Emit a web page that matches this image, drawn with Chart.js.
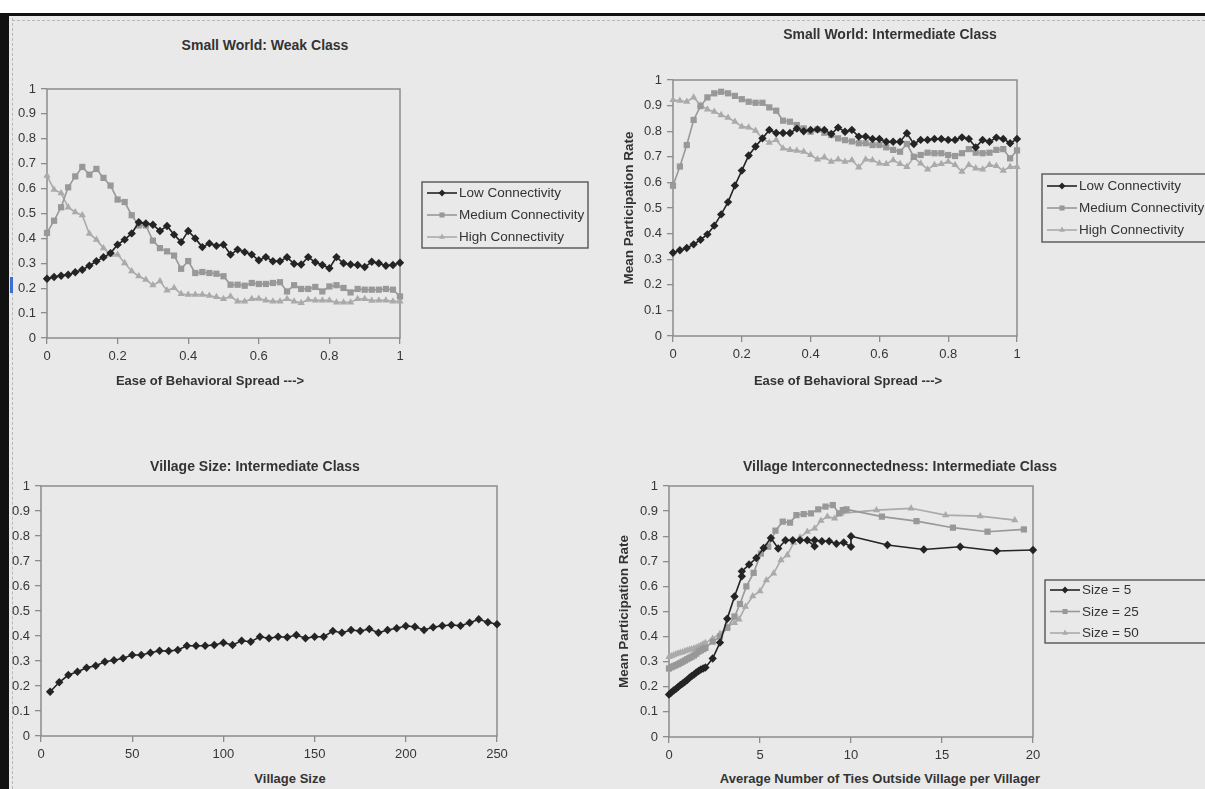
<!DOCTYPE html>
<html>
<head>
<meta charset="utf-8">
<title>Participation charts</title>
<script src="https://cdn.jsdelivr.net/npm/chart.js@4.4.1/dist/chart.umd.min.js"></script>
<style>
    html, body { margin: 0; padding: 0; }
    body {
        width: 1205px; height: 789px; position: relative; overflow: hidden;
        background: #fff; font-family: 'Liberation Sans', Arial, sans-serif; color: #333;
    }
    #page {
        position: absolute; left: 0; top: 13px; width: 1205px; height: 776px;
        background: #e9e9e9; border-top: 3px solid #111; border-left: 9px solid #111;
        box-sizing: border-box;
    }
    .edge-v { position: absolute; left: 12px; top: 18px; height: 771px; border-left: 1px dashed #b8b8b8; }
    .edge-h { position: absolute; left: 12px; top: 20px; width: 1193px; border-top: 1px dashed #b8b8b8; }
    .blue { position: absolute; left: 10px; top: 277px; width: 3px; height: 16px; background: #3d6fd0; }
    .box { position: absolute; }
    .lbl {
        position: absolute; transform: translate(-50%, -50%); white-space: nowrap;
        font-weight: bold; color: #333;
    }
    .main { font-size: 14px; }
    .axis { font-size: 13px; }
</style>
</head>
<body>
<div id="page"></div>
<div class="edge-v"></div>
<div class="edge-h"></div>
<div class="blue"></div>

<div class="box" style="left:0px; top:60px; width:600px; height:320px;"><canvas id="weakChart"></canvas></div>
<div class="box" style="left:600px; top:20px; width:605px; height:360px;"><canvas id="interChart"></canvas></div>
<div class="box" style="left:0px; top:470px; width:600px; height:300px;"><canvas id="sizeChart"></canvas></div>
<div class="box" style="left:600px; top:470px; width:605px; height:300px;"><canvas id="tiesChart"></canvas></div>

<div class="lbl main" style="left:265px; top:45px;">Small World: Weak Class</div>
<div class="lbl main" style="left:890px; top:34px;">Small World: Intermediate Class</div>
<div class="lbl main" style="left:255px; top:466px;">Village Size: Intermediate Class</div>
<div class="lbl main" style="left:900px; top:466px;">Village Interconnectedness: Intermediate Class</div>

<div class="lbl axis" style="left:210px; top:380px;">Ease of Behavioral Spread ---&gt;</div>
<div class="lbl axis" style="left:848px; top:380px;">Ease of Behavioral Spread ---&gt;</div>
<div class="lbl axis" style="left:290px; top:778px;">Village Size</div>
<div class="lbl axis" style="left:880px; top:778px;">Average Number of Ties Outside Village per Villager</div>

<script>
// ============================
// DATA
// ============================

const spread = [0, 0.02, 0.04, 0.06, 0.08, 0.1, 0.12, 0.14, 0.16, 0.18,
    0.2, 0.22, 0.24, 0.26, 0.28, 0.3, 0.32, 0.34, 0.36, 0.38,
    0.4, 0.42, 0.44, 0.46, 0.48, 0.5, 0.52, 0.54, 0.56, 0.58,
    0.6, 0.62, 0.64, 0.66, 0.68, 0.7, 0.72, 0.74, 0.76, 0.78,
    0.8, 0.82, 0.84, 0.86, 0.88, 0.9, 0.92, 0.94, 0.96, 0.98, 1];

const connectivityLabels = ['Low Connectivity', 'Medium Connectivity', 'High Connectivity'];

const weakLow = [0.238, 0.245, 0.25, 0.254, 0.264, 0.274, 0.29, 0.308, 0.324, 0.341,
    0.375, 0.395, 0.42, 0.465, 0.46, 0.455, 0.43, 0.45, 0.415, 0.385,
    0.43, 0.40, 0.365, 0.38, 0.37, 0.375, 0.335, 0.355, 0.345, 0.335,
    0.312, 0.325, 0.308, 0.308, 0.324, 0.298, 0.295, 0.325, 0.304, 0.293,
    0.28, 0.325, 0.30, 0.295, 0.293, 0.285, 0.306, 0.30, 0.29, 0.293, 0.302];

const weakMedium = [0.422, 0.471, 0.525, 0.605, 0.649, 0.687, 0.656, 0.679, 0.643, 0.612,
    0.556, 0.546, 0.493, 0.452, 0.452, 0.391, 0.361, 0.348, 0.331, 0.278,
    0.309, 0.261, 0.265, 0.261, 0.258, 0.248, 0.214, 0.214, 0.21, 0.221,
    0.217, 0.217, 0.221, 0.224, 0.187, 0.212, 0.197, 0.197, 0.205, 0.187,
    0.207, 0.212, 0.201, 0.183, 0.197, 0.194, 0.194, 0.194, 0.197, 0.194, 0.167];

const weakHigh = [0.652, 0.596, 0.582, 0.525, 0.505, 0.493, 0.419, 0.395, 0.361, 0.335,
    0.335, 0.301, 0.268, 0.248, 0.234, 0.212, 0.228, 0.191, 0.201, 0.177,
    0.174, 0.174, 0.174, 0.17, 0.165, 0.157, 0.167, 0.147, 0.147, 0.157,
    0.158, 0.151, 0.147, 0.147, 0.157, 0.147, 0.141, 0.154, 0.151, 0.151,
    0.151, 0.143, 0.143, 0.143, 0.157, 0.157, 0.15, 0.151, 0.151, 0.147, 0.147];

const interLow = [0.325, 0.335, 0.344, 0.358, 0.376, 0.397, 0.431, 0.475, 0.523, 0.588,
    0.646, 0.705, 0.74, 0.772, 0.805, 0.793, 0.793, 0.793, 0.81, 0.80,
    0.805, 0.807, 0.805, 0.789, 0.814, 0.798, 0.805, 0.779, 0.779, 0.77,
    0.77, 0.759, 0.759, 0.759, 0.792, 0.75, 0.766, 0.766, 0.77, 0.77,
    0.766, 0.766, 0.776, 0.77, 0.737, 0.766, 0.759, 0.775, 0.77, 0.753, 0.77];

const interMedium = [0.587, 0.662, 0.746, 0.844, 0.898, 0.932, 0.948, 0.954, 0.948, 0.938,
    0.925, 0.915, 0.911, 0.911, 0.893, 0.88, 0.841, 0.837, 0.824, 0.811,
    0.798, 0.807, 0.794, 0.785, 0.772, 0.765, 0.76, 0.753, 0.753, 0.746,
    0.746, 0.737, 0.727, 0.72, 0.75, 0.70, 0.707, 0.716, 0.714, 0.714,
    0.707, 0.703, 0.714, 0.73, 0.716, 0.714, 0.716, 0.727, 0.73, 0.694, 0.725];

const interHigh = [0.922, 0.919, 0.915, 0.932, 0.902, 0.885, 0.876, 0.863, 0.853, 0.837,
    0.818, 0.815, 0.802, 0.772, 0.755, 0.766, 0.733, 0.727, 0.724, 0.72,
    0.707, 0.69, 0.698, 0.681, 0.69, 0.681, 0.687, 0.659, 0.69, 0.687,
    0.674, 0.672, 0.687, 0.672, 0.661, 0.698, 0.674, 0.651, 0.668, 0.672,
    0.681, 0.668, 0.642, 0.668, 0.655, 0.651, 0.668, 0.664, 0.646, 0.661, 0.661];

const villageSizes = [5, 10, 15, 20, 25, 30, 35, 40, 45, 50,
    55, 60, 65, 70, 75, 80, 85, 90, 95, 100,
    105, 110, 115, 120, 125, 130, 135, 140, 145, 150,
    155, 160, 165, 170, 175, 180, 185, 190, 195, 200,
    205, 210, 215, 220, 225, 230, 235, 240, 245, 250];

const villageRate = [0.177, 0.215, 0.244, 0.257, 0.273, 0.281, 0.297, 0.303, 0.311, 0.324,
    0.324, 0.333, 0.341, 0.34, 0.344, 0.361, 0.361, 0.361, 0.364, 0.373,
    0.364, 0.381, 0.377, 0.397, 0.391, 0.397, 0.395, 0.404, 0.391, 0.397,
    0.397, 0.42, 0.413, 0.424, 0.42, 0.428, 0.413, 0.424, 0.431, 0.44,
    0.437, 0.424, 0.435, 0.441, 0.444, 0.441, 0.453, 0.467, 0.455, 0.447];

const sizeLabels = ['Size = 5', 'Size = 25', 'Size = 50'];

const size5X = [0, 0.125, 0.25, 0.375, 0.5, 0.625, 0.75, 0.875, 1, 1.125, 1.25, 1.375, 1.5, 1.625, 1.75, 1.875, 2,
    2.4, 2.8, 3.2, 3.6, 4, 4, 4.4, 4.8, 5.2, 5.6, 6, 6.4, 6.8, 7.2, 7.6, 8, 8, 8.4, 8.8, 9.2, 9.6, 10, 10,
    12, 14, 16, 18, 20];
const size5Y = [0.169, 0.177, 0.185, 0.191, 0.199, 0.207, 0.213, 0.22, 0.227, 0.236, 0.243, 0.249, 0.257, 0.263, 0.269, 0.273, 0.277,
    0.313, 0.376, 0.471, 0.56, 0.64, 0.66, 0.687, 0.713, 0.753, 0.793, 0.751, 0.784, 0.784, 0.784, 0.784, 0.76, 0.784, 0.78, 0.78, 0.77, 0.775, 0.758, 0.80,
    0.765, 0.747, 0.758, 0.741, 0.745];

const size25X = [0, 0.125, 0.25, 0.375, 0.5, 0.625, 0.75, 0.875, 1, 1.125, 1.25, 1.375, 1.5, 1.625, 1.75, 1.875, 2,
    2.4, 2.8, 3.2, 3.6, 3.9, 4.25, 4.65, 5.05, 5.45, 5.85, 6.25, 6.65, 7, 7.4, 7.8, 8.2, 8.6, 9, 9.35, 9.55, 9.75,
    11.7, 13.6, 15.6, 17.5, 19.5];
const size25Y = [0.273, 0.278, 0.282, 0.286, 0.29, 0.295, 0.30, 0.305, 0.31, 0.315, 0.32, 0.325, 0.332, 0.34, 0.345, 0.35, 0.355,
    0.38, 0.40, 0.435, 0.48, 0.53, 0.60, 0.654, 0.731, 0.758, 0.822, 0.858, 0.854, 0.884, 0.888, 0.891, 0.907, 0.918, 0.924, 0.891, 0.904, 0.907,
    0.878, 0.86, 0.834, 0.818, 0.827];

const size50X = [0, 0.125, 0.25, 0.375, 0.5, 0.625, 0.75, 0.875, 1, 1.125, 1.25, 1.375, 1.5, 1.625, 1.75, 1.875, 2,
    2.4, 2.8, 3.2, 3.6, 3.85, 4.2, 4.6, 5, 5.35, 5.75, 6.15, 6.5, 6.85, 7.2, 7.6, 8, 8.35, 8.7, 9.1, 9.45,
    11.4, 13.3, 15.2, 17.1, 19];
const size50Y = [0.319, 0.322, 0.326, 0.33, 0.333, 0.336, 0.338, 0.342, 0.345, 0.348, 0.35, 0.353, 0.356, 0.36, 0.365, 0.37, 0.375,
    0.392, 0.412, 0.439, 0.455, 0.469, 0.519, 0.561, 0.581, 0.625, 0.652, 0.705, 0.725, 0.774, 0.795, 0.818, 0.831, 0.862, 0.878, 0.871, 0.891,
    0.904, 0.911, 0.884, 0.88, 0.864];


// ============================
// STYLE + HELPERS
// ============================

Chart.defaults.font.family = "'Liberation Sans', Arial, sans-serif";
Chart.defaults.color = '#363636';

const marks = [
    { color: '#242424', pointStyle: 'rectRot', radius: 4.2 },
    { color: '#989898', pointStyle: 'rect', radius: 4.4 },
    { color: '#aaaaaa', pointStyle: 'triangle', radius: 4.2 }
];

const pts = (xs, ys) => xs.map((x, i) => ({ x: x, y: ys[i] }));

// excel prints 1 and 0, not 1.0 and 0.0
const plainNumber = v => String(Math.round(v * 100) / 100);

function series(label, data, m) {
    return {
        label: label,
        data: data,
        borderColor: m.color,
        backgroundColor: m.color,
        borderWidth: 1.6,
        pointStyle: m.pointStyle,
        pointRadius: m.radius,
        pointBorderWidth: 0,
        pointBackgroundColor: m.color,
        tension: 0,
        clip: false
    };
}

function drawMark(ctx, style, x, y, r) {
    ctx.beginPath();
    if (style === 'rectRot') {
        ctx.moveTo(x, y - r); ctx.lineTo(x + r, y); ctx.lineTo(x, y + r); ctx.lineTo(x - r, y);
    } else if (style === 'rect') {
        const h = r * Math.SQRT1_2;
        ctx.rect(x - h, y - h, 2 * h, 2 * h);
    } else {
        ctx.moveTo(x, y - r); ctx.lineTo(x + r * 0.866, y + r * 0.5); ctx.lineTo(x - r * 0.866, y + r * 0.5);
    }
    ctx.closePath();
    ctx.fill();
}

// grey box round the plot area
const plotFrame = {
    id: 'plotFrame',
    beforeDatasetsDraw(chart) {
        const { ctx, chartArea: a } = chart;
        ctx.save();
        ctx.strokeStyle = '#8c8c8c';
        ctx.lineWidth = 1.5;
        ctx.strokeRect(a.left, a.top, a.right - a.left, a.bottom - a.top);
        ctx.restore();
    }
};

// excel style legend in a box
const boxLegend = {
    id: 'boxLegend',
    afterDraw(chart, args, opts) {
        if (opts.x == null) return;
        const ctx = chart.ctx;
        ctx.save();
        ctx.strokeStyle = '#4a4a4a';
        ctx.lineWidth = 1.3;
        ctx.strokeRect(opts.x, opts.y, opts.w, opts.h);
        ctx.font = "13.5px 'Liberation Sans', Arial, sans-serif";
        ctx.textBaseline = 'middle';
        chart.data.datasets.forEach((ds, i) => {
            const cy = opts.y + opts.first + opts.row * i;
            ctx.strokeStyle = ds.borderColor;
            ctx.fillStyle = ds.borderColor;
            ctx.lineWidth = ds.borderWidth;
            ctx.beginPath();
            ctx.moveTo(opts.x + 5, cy);
            ctx.lineTo(opts.x + 35, cy);
            ctx.stroke();
            drawMark(ctx, ds.pointStyle, opts.x + 20, cy, ds.pointRadius - 0.8);
            ctx.fillStyle = '#333';
            ctx.fillText(ds.label, opts.x + 37, cy + 0.5);
        });
        ctx.restore();
    }
};

function lineChart(id, datasets, o) {
    const gridStyle = { drawOnChartArea: false, tickLength: 6, color: '#8c8c8c', lineWidth: 1.3 };
    return new Chart(document.getElementById(id), {
        type: 'line',
        data: { datasets: datasets },
        plugins: [plotFrame, boxLegend],
        options: {
            responsive: true,
            maintainAspectRatio: false,
            animation: false,
            layout: { padding: { left: o.padLeft, top: o.padTop, right: o.padRight, bottom: 0 } },
            plugins: {
                legend: { display: false },
                tooltip: { enabled: false },
                boxLegend: o.legend || {}
            },
            scales: {
                x: {
                    type: 'linear',
                    min: o.xMin,
                    max: o.xMax,
                    ticks: { stepSize: o.xStep, padding: 5, maxRotation: 0, autoSkip: false,
                        font: { size: 13 }, callback: plainNumber },
                    grid: gridStyle,
                    border: { display: false },
                    afterFit: s => { s.height = o.xHeight; }
                },
                y: {
                    min: 0,
                    max: 1,
                    ticks: { stepSize: 0.1, padding: 5, font: { size: 13 }, callback: plainNumber },
                    grid: gridStyle,
                    border: { display: false },
                    title: {
                        display: !!o.yTitle,
                        text: o.yTitle || '',
                        padding: 0,
                        color: '#333',
                        font: { size: 13.5, weight: 'bold' }
                    },
                    afterFit: s => { s.width = o.yWidth; }
                }
            }
        }
    });
}


// ============================
// SMALL WORLD: WEAK CLASS
// ============================

lineChart('weakChart', [
    series(connectivityLabels[0], pts(spread, weakLow), marks[0]),
    series(connectivityLabels[1], pts(spread, weakMedium), marks[1]),
    series(connectivityLabels[2], pts(spread, weakHigh), marks[2])
], {
    xMin: 0, xMax: 1, xStep: 0.2,
    padLeft: 0, padTop: 29, padRight: 200, yWidth: 47, xHeight: 42,
    legend: { x: 422, y: 122, w: 166, h: 66, first: 11, row: 22 }
});


// ============================
// SMALL WORLD: INTERMEDIATE CLASS
// ============================

lineChart('interChart', [
    series(connectivityLabels[0], pts(spread, interLow), marks[0]),
    series(connectivityLabels[1], pts(spread, interMedium), marks[1]),
    series(connectivityLabels[2], pts(spread, interHigh), marks[2])
], {
    xMin: 0, xMax: 1, xStep: 0.2,
    padLeft: 21, padTop: 60, padRight: 188, yWidth: 52, xHeight: 44,
    yTitle: 'Mean Participation Rate',
    legend: { x: 442, y: 154, w: 175, h: 68, first: 12, row: 22 }
});


// ============================
// VILLAGE SIZE
// ============================

lineChart('sizeChart', [
    series('Village Size', pts(villageSizes, villageRate), marks[0])
], {
    xMin: 0, xMax: 250, xStep: 50,
    padLeft: 0, padTop: 16, padRight: 103, yWidth: 41, xHeight: 34
});


// ============================
// VILLAGE INTERCONNECTEDNESS
// ============================

lineChart('tiesChart', [
    series(sizeLabels[0], pts(size5X, size5Y), marks[0]),
    series(sizeLabels[1], pts(size25X, size25Y), marks[1]),
    series(sizeLabels[2], pts(size50X, size50Y), marks[2])
], {
    xMin: 0, xMax: 20, xStep: 5,
    padLeft: 16, padTop: 16, padRight: 172, yWidth: 53, xHeight: 33,
    yTitle: 'Mean Participation Rate',
    legend: { x: 445, y: 110, w: 175, h: 63, first: 10, row: 21.5 }
});
</script>
</body>
</html>
